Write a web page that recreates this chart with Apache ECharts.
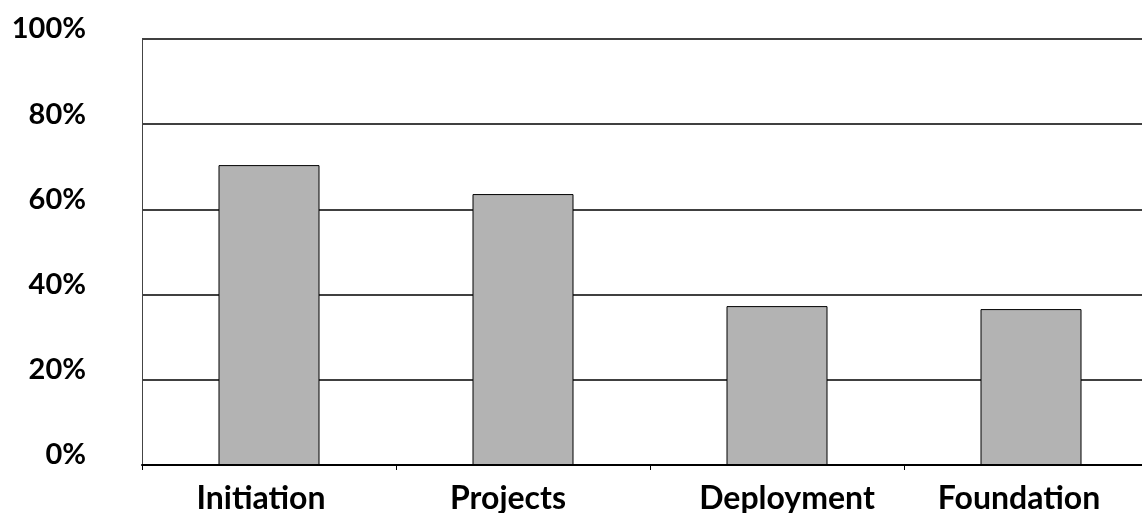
<!DOCTYPE html>
<html>
<head>
<meta charset="utf-8">
<script src="https://cdn.jsdelivr.net/npm/echarts@6/dist/echarts.min.js"></script>
<style>
html,body{margin:0;padding:0;background:#fff;}
#chart{width:1142px;height:513px;}
</style>
</head>
<body>
<div id="chart"></div>
<script>
const categories = ['Initiation', 'Projects', 'Deployment', 'Foundation'];
const values = [70.4, 63.6, 37.3, 36.6];
const yTicks = [0, 20, 40, 60, 80, 100];

// per-label horizontal nudges (style only)
const labelShift = [-8, -15, 10, -12];
const rich = {};
labelShift.forEach((s, i) => {
  rich['c' + i] = {
    fontFamily: 'Lato', fontWeight: 'bold', fontSize: 32, color: '#000',
    padding: s < 0 ? [0, -2 * s, 0, 0] : [0, 0, 0, 2 * s]
  };
});

const chart = echarts.init(document.getElementById('chart'), null, {renderer: 'canvas'});
chart.setOption({
  animation: false,
  backgroundColor: '#ffffff',
  grid: {left: 142, top: 39, width: 1016, height: 426, containLabel: false, outerBoundsMode: 'none'},
  xAxis: {
    type: 'category',
    data: categories,
    axisLine: {show: true, lineStyle: {color: '#000', width: 2}},
    axisTick: {show: true, alignWithLabel: false, length: 5, lineStyle: {color: '#000', width: 1}},
    axisLabel: {
      color: '#000', fontFamily: 'Lato', fontWeight: 'bold', fontSize: 32, margin: 18,
      interval: 0,
      formatter: (v, i) => '{c' + i + '|' + v + '}',
      rich: rich
    },
    splitLine: {show: false}
  },
  yAxis: {
    type: 'value',
    min: yTicks[0],
    max: yTicks[yTicks.length - 1],
    interval: 20,
    axisLine: {show: true, lineStyle: {color: '#444', width: 1}},
    axisTick: {show: false},
    axisLabel: {
      color: '#000', fontFamily: 'Lato', fontWeight: 'bold', fontSize: 29, margin: 56,
      verticalAlign: 'bottom', lineHeight: 20,
      formatter: v => v + '%'
    },
    splitLine: {show: true, lineStyle: {color: '#000', width: 1.5}}
  },
  series: [{
    type: 'bar',
    data: values,
    barWidth: 101,
    itemStyle: {color: '#b3b3b3', borderColor: '#000', borderWidth: 1}
  }]
});
</script>
</body>
</html>
